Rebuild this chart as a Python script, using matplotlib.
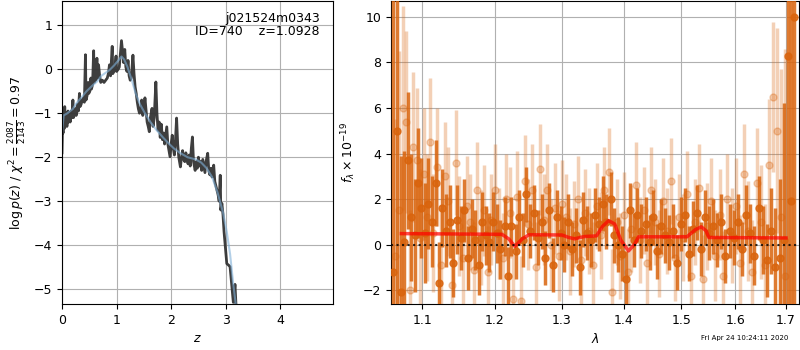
import matplotlib
matplotlib.use("Agg")
import matplotlib.pyplot as plt
from matplotlib.ticker import NullLocator, FixedLocator, FixedFormatter

plt.rcParams["font.size"] = 9

# --- p(z) panel
pz_z = [0.00, 0.01, 0.02, 0.03, 0.04, 0.05, 0.06, 0.08, 0.09, 0.11,
        0.12, 0.14, 0.15, 0.17, 0.18, 0.20, 0.21, 0.23, 0.25, 0.26,
        0.28, 0.30, 0.32, 0.33, 0.35, 0.37, 0.39, 0.41, 0.43, 0.44,
        0.46, 0.48, 0.49, 0.51, 0.53, 0.54, 0.56, 0.58, 0.59, 0.61,
        0.62, 0.64, 0.65, 0.67, 0.69, 0.71, 0.74, 0.77, 0.80, 0.83,
        0.85, 0.87, 0.89, 0.92, 0.93, 0.95, 0.97, 0.99, 1.00, 1.03,
        1.05, 1.07, 1.09, 1.11, 1.13, 1.15, 1.17, 1.19, 1.21, 1.23,
        1.25, 1.27, 1.30, 1.32, 1.34, 1.36, 1.38, 1.40, 1.42, 1.44,
        1.46, 1.48, 1.50, 1.52, 1.54, 1.56, 1.58, 1.60, 1.62, 1.65,
        1.67, 1.69, 1.72, 1.74, 1.76, 1.78, 1.80, 1.82, 1.84, 1.86,
        1.88, 1.90, 1.92, 1.94, 1.96, 1.98, 2.00, 2.02, 2.04, 2.06,
        2.08, 2.10, 2.12, 2.14, 2.17, 2.19, 2.21, 2.23, 2.25, 2.27,
        2.29, 2.31, 2.33, 2.35, 2.37, 2.39, 2.41, 2.44, 2.46, 2.48,
        2.50, 2.52, 2.54, 2.56, 2.58, 2.60, 2.62, 2.64, 2.67, 2.69,
        2.71, 2.73, 2.75, 2.78, 2.80, 2.83, 2.86, 2.88, 2.90, 2.91,
        2.93, 2.95, 2.97, 2.99, 3.02, 3.05, 3.08, 3.11, 3.14, 3.17,
        3.19]
pz_log = [-1.90, -1.30, -1.45, -1.10, -1.35, -0.85, -1.25, -1.05, -1.30, -0.95,
          -1.20, -1.00, -1.20, -0.95, -1.10, -0.70, -1.10, -1.00, -0.90, -1.05,
          -0.80, -0.95, -0.55, -0.85, -0.80, -0.70, -0.65, -0.75, 0.33, -0.70,
          -0.60, -0.30, -0.55, -0.50, -0.20, -0.45, -0.35, 0.42, -0.30, 0.20,
          -0.25, 0.25, -0.20, 0.10, -0.15, -0.30, -0.25, -0.30, -0.25, -0.20,
          -0.10, 0.10, -0.15, 0.52, -0.10, -0.05, 0.00, 0.30, -0.05, 0.00,
          0.05, 0.35, 0.65, 0.40, 0.15, 0.45, 0.05, -0.05, 0.20, -0.15,
          -0.25, -0.20, 0.32, -0.10, -0.40, -0.55, -0.75, -0.90, -1.00, -0.95,
          -0.70, -1.05, -0.95, -0.65, -0.93, -1.20, -1.30, -1.42, -1.10, -0.89,
          -1.30, -1.10, -0.29, -1.00, -1.39, -1.20, -1.55, -1.25, -1.60, -1.45,
          -1.70, -1.50, -1.31, -1.70, -1.85, -1.99, -1.70, -1.50, -1.80, -1.95,
          -1.60, -1.11, -1.70, -2.00, -2.22, -2.00, -1.85, -2.05, -2.10, -1.90,
          -2.05, -2.15, -1.95, -2.20, -1.80, -1.54, -2.10, -2.30, -2.10, -2.25,
          -2.00, -2.20, -2.10, -2.30, -2.05, -2.20, -2.35, -2.10, -1.91, -2.30,
          -2.40, -2.25, -2.45, -2.18, -2.55, -2.70, -2.85, -3.00, -2.41, -3.20,
          -3.05, -3.30, -3.70, -4.00, -4.42, -4.45, -4.49, -4.90, -5.30, -4.89,
          -5.40]

smooth_z = [0.00, 0.03, 0.10, 0.20, 0.26, 0.35, 0.45, 0.55, 0.65, 0.72,
            0.80, 0.87, 0.95, 1.02, 1.09, 1.14, 1.20, 1.28, 1.35, 1.43,
            1.52, 1.62, 1.73, 1.85, 1.95, 2.05, 2.16, 2.30, 2.45, 2.55,
            2.65, 2.75, 2.85, 2.95, 3.02, 3.08, 3.14, 3.20]
smooth_log = [-1.45, -1.05, -1.00, -0.90, -0.78, -0.65, -0.50, -0.38, -0.27, -0.15,
              -0.08, -0.02, 0.08, 0.18, 0.29, 0.22, 0.05, -0.25, -0.55, -0.80,
              -1.00, -1.20, -1.38, -1.55, -1.68, -1.80, -1.90, -2.00, -2.05, -2.12,
              -2.25, -2.45, -2.80, -3.25, -3.70, -4.20, -4.90, -5.50]

# --- spectrum panel, first beam (dark)
dark_wave = [1.062, 1.068, 1.072, 1.077, 1.081, 1.086, 1.090, 1.095, 1.099, 1.104,
             1.108, 1.113, 1.118, 1.122, 1.127, 1.132, 1.137, 1.142, 1.147, 1.152,
             1.157, 1.162, 1.167, 1.172, 1.177, 1.182, 1.187, 1.192, 1.198, 1.203,
             1.208, 1.214, 1.219, 1.224, 1.230, 1.235, 1.241, 1.246, 1.252, 1.257,
             1.263, 1.269, 1.274, 1.280, 1.286, 1.292, 1.298, 1.304, 1.310, 1.316,
             1.322, 1.328, 1.334, 1.340, 1.346, 1.353, 1.359, 1.365, 1.371, 1.378,
             1.384, 1.391, 1.397, 1.404, 1.410, 1.417, 1.423, 1.430, 1.437, 1.444,
             1.450, 1.457, 1.464, 1.471, 1.478, 1.485, 1.492, 1.499, 1.506, 1.514,
             1.521, 1.528, 1.536, 1.543, 1.551, 1.558, 1.566, 1.573, 1.581, 1.589,
             1.597, 1.605, 1.613, 1.621, 1.629, 1.637, 1.645, 1.653, 1.662, 1.670,
             1.678, 1.687, 1.695, 1.703, 1.711, 1.716]
dark_flux = [-1.2, 5.0, -2.1, 0.1, 3.7, 1.2, 0.4, 2.7, 1.6, 0.5,
             1.8, 1.0, 2.7, -1.7, 1.6, 0.6, 1.0, -0.8, 1.1, 0.3,
             1.5, -0.6, 0.7, 0.2, -0.9, 1.0, 0.4, 0.1, 1.0, 0.5,
             -0.2, 0.8, -1.4, 0.8, -0.3, 1.2, 0.2, 2.2, 0.6, 1.4,
             0.3, 1.0, -0.6, 1.5, -0.9, 1.2, 0.5, 0.0, 1.0, -0.2,
             0.4, -1.0, 1.1, 0.5, 0.2, 1.3, 0.9, 1.8, 1.0, 2.0,
             0.4, 0.0, -0.4, -1.5, 1.5, 0.2, 1.3, 0.6, 0.9, 0.1,
             1.2, -0.3, 0.8, 0.4, 0.1, 0.6, -0.8, 0.9, 1.3, -0.4,
             0.7, 1.4, -0.2, 1.2, 0.5, 0.8, 0.2, 1.0, -0.5, 0.6,
             0.3, 1.0, -0.2, 1.3, 0.5, -0.5, 1.6, 0.2, -0.7, 0.6,
             -1.0, -0.6, 0.2, 8.3, 1.9, 10.0]
dark_err = [14, 9, 6, 4, 3.0, 2.8, 2.5, 2.4, 2.2, 2.2,
            2.0, 2.0, 1.9, 1.8, 1.7, 1.6, 1.6, 1.5, 1.5, 1.4,
            1.4, 1.4, 1.3, 1.3, 1.3, 1.3, 1.3, 1.3, 1.3, 1.3,
            1.3, 1.3, 1.3, 1.3, 1.2, 1.2, 1.2, 1.2, 1.2, 1.2,
            1.2, 1.2, 1.2, 1.2, 1.2, 1.2, 1.2, 1.2, 1.2, 1.2,
            1.2, 1.2, 1.2, 1.2, 1.2, 1.2, 1.2, 1.2, 1.2, 1.2,
            1.2, 1.2, 1.2, 1.2, 1.2, 1.2, 1.2, 1.2, 1.2, 1.2,
            1.2, 1.2, 1.2, 1.2, 1.2, 1.2, 1.2, 1.2, 1.2, 1.2,
            1.2, 1.2, 1.2, 1.2, 1.2, 1.2, 1.2, 1.2, 1.2, 1.2,
            1.2, 1.2, 1.2, 1.3, 1.3, 1.3, 1.4, 1.5, 1.6, 1.9,
            2.6, 3.5, 6, 12, 14, 14]

# --- second beam (light)
light_wave = [1.065, 1.070, 1.075, 1.079, 1.084, 1.088, 1.093, 1.097, 1.102, 1.106,
              1.111, 1.115, 1.120, 1.125, 1.130, 1.135, 1.140, 1.145, 1.150, 1.155,
              1.160, 1.165, 1.170, 1.175, 1.180, 1.185, 1.190, 1.195, 1.200, 1.206,
              1.211, 1.216, 1.222, 1.227, 1.232, 1.238, 1.244, 1.249, 1.255, 1.260,
              1.266, 1.272, 1.277, 1.283, 1.289, 1.295, 1.301, 1.307, 1.313, 1.319,
              1.325, 1.331, 1.337, 1.343, 1.350, 1.356, 1.362, 1.368, 1.375, 1.381,
              1.388, 1.394, 1.400, 1.407, 1.413, 1.420, 1.427, 1.434, 1.440, 1.447,
              1.454, 1.461, 1.468, 1.475, 1.482, 1.489, 1.496, 1.503, 1.510, 1.517,
              1.525, 1.532, 1.539, 1.547, 1.554, 1.562, 1.570, 1.577, 1.585, 1.593,
              1.601, 1.609, 1.617, 1.625, 1.633, 1.641, 1.649, 1.657, 1.666, 1.674,
              1.682, 1.690, 1.698]
light_flux = [-0.5, 1.5, 6.0, 5.4, -2.0, 4.3, 3.7, 0.3, 3.1, 1.2,
              4.5, 0.5, 3.4, -0.9, 3.0, 1.9, -1.8, 3.6, 0.8, -0.6,
              1.7, 1.0, -1.1, 2.4, 0.3, 1.5, -1.2, 1.1, 2.4, 0.5,
              -0.6, 2.0, 1.4, -2.4, 2.1, -2.5, 2.8, 0.9, 2.4, -1.0,
              3.3, 1.1, 2.4, 0.0, 1.6, -0.5, 1.8, 1.2, -0.3, 0.9,
              2.0, -0.7, 1.4, 0.6, -0.9, 1.7, 0.4, 2.4, 3.2, -2.1,
              1.0, -0.5, 1.3, -1.2, 0.7, 2.6, 0.2, 1.5, -0.8, 2.4,
              1.0, -0.4, 1.9, 0.6, 2.8, -0.6, 1.2, 0.3, 2.2, -1.4,
              1.0, 2.5, -1.5, 0.8, 1.9, -0.5, 1.3, -1.4, 2.0, 0.4,
              1.7, -0.8, 3.1, 0.6, -1.2, 2.7, 1.0, -0.9, 3.5, 6.5,
              5.0, 1.2, -1.4]
light_err = [6, 7, 4.5, 4, 3.5, 3.3, 3.2, 3.0, 2.9, 2.8,
             2.8, 2.6, 2.6, 2.5, 2.4, 2.4, 2.3, 2.3, 2.2, 2.2,
             2.2, 2.1, 2.1, 2.1, 2.1, 2.0, 2.0, 2.0, 2.0, 2.0,
             2.0, 2.0, 2.0, 2.0, 2.0, 2.0, 2.0, 2.0, 2.0, 2.0,
             2.0, 2.0, 2.0, 2.0, 2.0, 2.0, 1.9, 1.9, 1.9, 1.9,
             1.9, 1.9, 1.9, 1.9, 1.9, 1.9, 1.9, 1.9, 1.9, 1.9,
             1.9, 1.9, 1.9, 1.9, 1.9, 1.9, 1.9, 1.9, 1.9, 1.9,
             1.9, 1.9, 1.9, 1.9, 1.9, 1.9, 1.9, 1.9, 1.9, 1.9,
             1.9, 1.9, 1.9, 1.9, 1.9, 2.0, 2.0, 2.0, 2.0, 2.1,
             2.1, 2.1, 2.2, 2.2, 2.3, 2.4, 2.5, 2.7, 2.9, 3.3,
             4.5, 6.5, 10]

# --- best-fit model
model_wave = [1.073, 1.21, 1.22, 1.229, 1.24, 1.25, 1.30, 1.31, 1.32, 1.335,
              1.355, 1.365, 1.375, 1.385, 1.395, 1.408, 1.418, 1.425, 1.51, 1.525,
              1.536, 1.545, 1.55, 1.70]
model_flux = [0.48, 0.45, 0.25, -0.08, 0.25, 0.43, 0.42, 0.32, 0.25, 0.35,
              0.38, 0.8, 1.05, 0.9, 0.2, -0.28, 0.0, 0.34, 0.34, 0.65,
              0.78, 0.6, 0.31, 0.29]

wave_ticks = [1.1, 1.2, 1.3, 1.4, 1.5, 1.6, 1.7]

fig = plt.figure(figsize=(8, 3.5), dpi=100)
ax1 = fig.add_axes([0.0775, 0.131, 0.339, 0.866])
ax2 = fig.add_axes([0.489, 0.131, 0.51, 0.866])

ax1.plot(pz_z, pz_log, color="0.2", lw=2, alpha=0.95)
ax1.plot(smooth_z, smooth_log, color="#7fb0d8", lw=1.5, alpha=0.6)
ax1.set_xlim(0, 4.97)
ax1.set_ylim(-5.34, 1.55)
ax1.set_xticks([0, 1, 2, 3, 4])
ax1.set_yticks([-5, -4, -3, -2, -1, 0, 1])
ax1.grid()
ax1.set_xlabel("$z$")
ax1.set_ylabel(r"$\log p(z)$ / $\chi^2=\frac{2087}{2143}=0.97$")
ax1.text(0.95, 0.965, "j021524m0343\nID=740    z=1.0928",
         transform=ax1.transAxes, ha="right", va="top", linespacing=1.05)

orange = "#d9640d"
ax2.errorbar(light_wave, light_flux, yerr=light_err, marker="o", ms=5,
             linestyle="None", color=orange, alpha=0.3, elinewidth=2.5, zorder=2)
ax2.errorbar(dark_wave, dark_flux, yerr=dark_err, marker="o", ms=5,
             linestyle="None", color=orange, alpha=0.85, elinewidth=2.5, zorder=3)
ax2.plot(model_wave, model_flux, color="red", lw=2.5, alpha=0.7, zorder=4)
ax2.axhline(0, color="k", linestyle=":", lw=1.5, alpha=0.8, zorder=5)

ax2.set_xscale("log")
ax2.set_xlim(1.06, 1.727)
ax2.set_ylim(-2.62, 10.7)
ax2.xaxis.set_major_locator(FixedLocator(wave_ticks))
ax2.xaxis.set_major_formatter(FixedFormatter([f"{w:.1f}" for w in wave_ticks]))
ax2.xaxis.set_minor_locator(NullLocator())
ax2.set_yticks([-2, 0, 2, 4, 6, 8, 10])
ax2.grid()
ax2.set_xlabel(r"$\lambda$")
ax2.set_ylabel(r"$f_\lambda\times10^{-19}$")

fig.text(0.985, 0.025, "Fri Apr 24 10:24:11 2020", ha="right", va="bottom", fontsize=5)

fig.savefig("out.png", dpi=100)
